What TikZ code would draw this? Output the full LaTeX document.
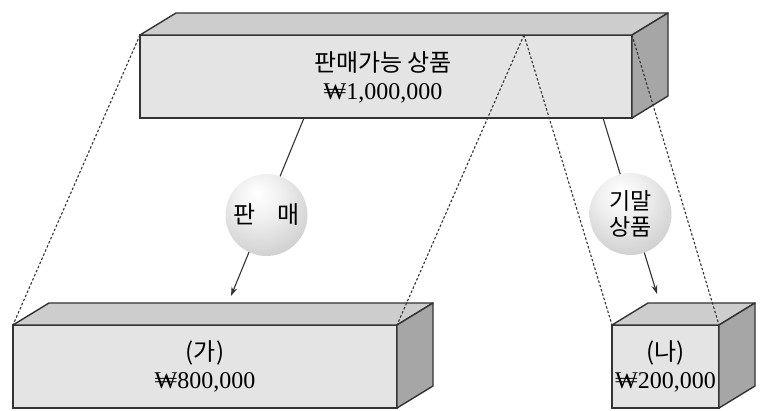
\documentclass[tikz,border=0pt]{standalone}
\usepackage{fontspec}
\setmainfont{Liberation Serif}
\newfontfamily\kofont{Noto Sans CJK KR}
\newfontfamily\numfont{Liberation Serif}
\usetikzlibrary{arrows.meta}
\definecolor{frontc}{HTML}{E4E4E4}
\definecolor{topc}{HTML}{CDCDCD}
\definecolor{sidec}{HTML}{A6A6A6}
\definecolor{edgec}{HTML}{333333}
\pgfdeclareradialshading{myball}{\pgfpoint{-6bp}{14bp}}{color(0bp)=(white); color(14bp)=(white!94!black); color(40bp)=(white!77!black); color(56bp)=(white!64!black); color(70bp)=(white!60!black)}
\newcommand\drawcuboid[4]{%
  \filldraw[frontc, draw=edgec, line width=1.4pt] (#1,#2) rectangle (#3,#4);
  \filldraw[topc, draw=edgec, line width=1.4pt, line join=round] (#1,#2) -- (#1+36,#2-22) -- (#3+36,#2-22) -- (#3,#2) -- cycle;
  \filldraw[sidec, draw=edgec, line width=1.4pt, line join=round] (#3,#2) -- (#3+36,#2-22) -- (#3+36,#4-22) -- (#3,#4) -- cycle;
}
\tikzset{
  lbl/.style={align=center, inner sep=0pt, font=\kofont\fontsize{24}{28}\selectfont},
  ballnode/.style={circle, minimum size=82pt, inner sep=0pt, shading=myball, align=center, font=\kofont\fontsize{23}{26}\selectfont},
  dots/.style={edgec, line width=1.1pt, dash pattern=on 2.5pt off 2pt},
  conn/.style={edgec, line width=1.1pt},
  arr/.style={conn, -{Stealth[length=9pt, width=6pt]}}
}
\begin{document}
\begin{tikzpicture}[x=1pt, y=-1pt]
\useasboundingbox (0,0) rectangle (760,411);
% boxes
\drawcuboid{140}{35}{632}{118}
\drawcuboid{13}{325}{397}{408}
\drawcuboid{612}{325}{719}{408}
% text
\node[lbl] (top) at (383,77) {판매가능 상품\\{\numfont ₩1,000,000}};
\node[lbl] (ga) at (205,366) {(가)\\{\numfont ₩800,000}};
\node[lbl] (na) at (665.5,366) {(나)\\{\numfont ₩200,000}};
% corner coordinates
\coordinate (tfl) at (140,35);
\coordinate (tfr) at (632,35);
\coordinate (apex) at (524,35);
\coordinate (afl) at (13,325);
\coordinate (afr) at (397,325);
\coordinate (bfl) at (612,325);
\coordinate (bfr) at (719,325);
% connectors
\coordinate (s1a) at (304,118);
\coordinate (s1b) at (231,296);
\coordinate (s2a) at (603,118);
\coordinate (s2b) at (657,294);
\draw[arr] (s1a) -- (s1b);
\draw[arr] (s2a) -- (s2b);
\node[ballnode, font=\kofont\fontsize{24}{26}\selectfont] (b1) at (266.5,215) {판\hspace{0.9em}매};
\node[ballnode] (b2) at (630.5,214) {기말\\상품};
% dotted projection lines
\draw[dots] (tfl) -- (afl);
\draw[dots] (apex) -- (afr);
\draw[dots] (apex) -- (bfl);
\draw[dots] (tfr) -- (bfr);
\end{tikzpicture}
\end{document}
